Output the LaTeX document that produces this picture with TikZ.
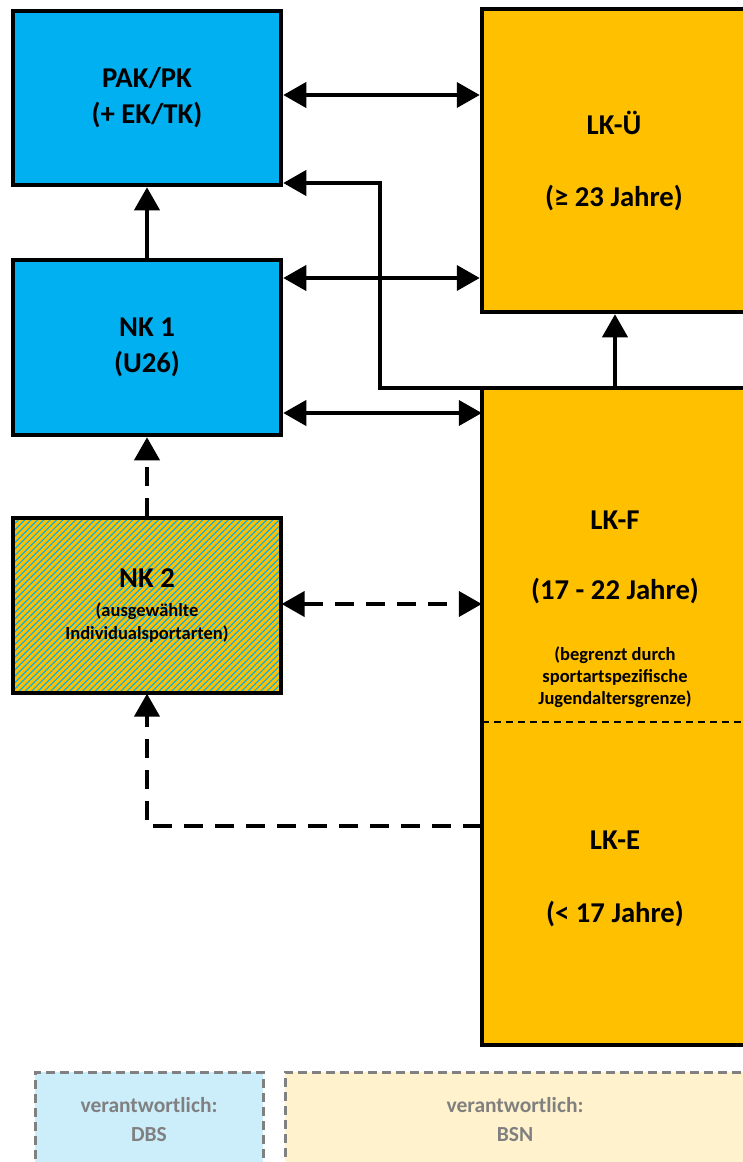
\documentclass[tikz,border=0pt]{standalone}
\usepackage{fontspec}
\setmainfont{Carlito}
\usetikzlibrary{arrows.meta,patterns.meta}
\definecolor{dbsblue}{HTML}{00B0F0}
\definecolor{bsnorange}{HTML}{FFC000}
\definecolor{dbslight}{HTML}{CCEEFB}
\definecolor{bsnlight}{HTML}{FFF2CC}
\definecolor{legendgray}{HTML}{808080}
\newcommand\notefont{\fontsize{18.5}{22}\selectfont}
\pgfdeclarelayer{background}
\pgfsetlayers{background,main}

\begin{document}
\begin{tikzpicture}[x=1pt,y=-1pt,
  box/.style={draw=black,line width=4.5pt,inner sep=0pt,align=center,
    font=\bfseries\fontsize{28.7}{36}\selectfont},
  dbsbox/.style={box,fill=dbsblue},
  bsnbox/.style={box,fill=bsnorange},
  boxtext/.style={align=center,inner sep=0pt,font=\bfseries\fontsize{28.7}{35}\selectfont},
  smalltext/.style={align=center,inner sep=0pt,font=\bfseries\notefont},
  legendbox/.style={draw=legendgray,line width=3pt,dash pattern=on 9pt off 5pt,inner sep=0pt,
    align=center,text=legendgray,font=\bfseries\fontsize{21.5}{29}\selectfont},
  tri/.tip={Triangle[length=23pt,width=25pt]},
  conn/.style={line width=4pt},
  dconn/.style={line width=4pt,dash pattern=on 19pt off 12pt}]

\useasboundingbox (0,0) rectangle (742,1162);

\node[dbsbox,minimum width=268pt,minimum height=174pt] (pak) at (147,98) {PAK/PK\\(+ EK/TK)};
\node[dbsbox,minimum width=268pt,minimum height=175pt] (nk1) at (147,347.5) {NK 1\\(U26)};
\node[box,minimum width=268pt,minimum height=175pt,preaction={fill=bsnorange},
  pattern={Lines[angle=45,distance=4.5pt,line width=1.2pt]},pattern color=dbsblue] (nk2) at (147,605.5)
  {NK 2\\[-7pt]{\notefont(ausgewählte}\\[-13pt]{\notefont Individualsportarten)}};

\node[bsnbox,minimum width=264pt,minimum height=303pt] (lku) at (614,160.5) {LK-Ü\\\mbox{}\\(≥ 23 Jahre)};
\node[fill=bsnorange,inner sep=0pt,minimum width=266pt,minimum height=334pt] (lkf) at (615,555) {};
\node[fill=bsnorange,inner sep=0pt,minimum width=266pt,minimum height=323pt] (lke) at (615,883.5) {};
\draw[line width=4.5pt] (lkf.north west) rectangle (lke.south east);
\draw[line width=1.5pt,dash pattern=on 7pt off 5pt] (lkf.south west) -- (lkf.south east);
\node[boxtext] (lkftext) at (615,557.5) {LK-F\\\mbox{}\\(17 - 22 Jahre)};
\node[smalltext] (lkfnote) at (615,677) {(begrenzt durch\\sportartspezifische\\Jugendaltersgrenze)};
\node[boxtext,font=\bfseries\fontsize{28.7}{36.5}\selectfont] (lketext) at (615,878.5) {LK-E\\\mbox{}\\(< 17 Jahre)};

\node[legendbox,fill=dbslight,minimum width=228pt,minimum height=96pt] (dbs) at (149,1120) {verantwortlich:\\DBS};
\node[legendbox,fill=bsnlight,minimum width=460pt,minimum height=96pt] (bsn) at (515,1120) {verantwortlich:\\BSN};

\begin{pgfonlayer}{background}
\coordinate (bend) at (380,183);
\draw[conn,tri-tri] (pak.east |- 0,95) -- (lku.west |- 0,95);
\draw[conn,-tri] (nk1.north) -- (pak.south);
\draw[conn,tri-tri] (nk1.east |- 0,278) -- (lku.west |- 0,278);
\draw[conn,-tri] (lkf.north west) -| (bend) -- (pak.east |- bend);
\draw[conn,-tri] (lkf.north -| 615,0) -- (lku.south -| 615,0);
\draw[conn,tri-tri] (nk1.east |- 0,413) -- (lkf.west |- 0,413);
\draw[dconn,-tri] (nk2.north) -- (nk1.south);
\draw[dconn,tri-tri] (nk2.east |- 0,604) -- (lkf.west |- 0,604);
\draw[dconn,-tri] (lke.west |- 0,826) -| (nk2.south);
\end{pgfonlayer}

\end{tikzpicture}
\end{document}
